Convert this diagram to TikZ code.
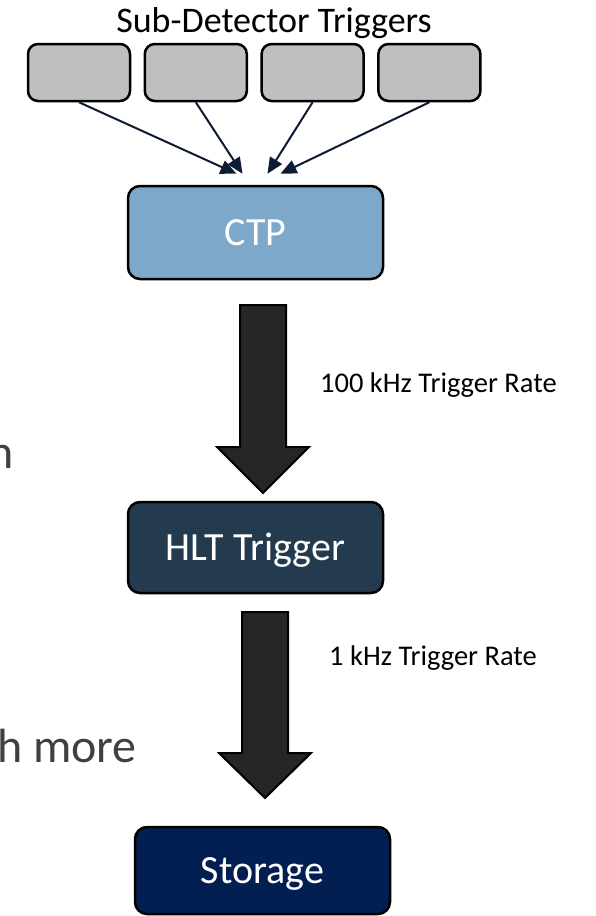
\documentclass[tikz,border=0pt]{standalone}
\usepackage{fontspec}
\setmainfont{Carlito}
\usepackage{xcolor}
\usetikzlibrary{arrows.meta}

\definecolor{subgray}{HTML}{BFBFBF}
\definecolor{ctpblue}{HTML}{7EA8C9}
\definecolor{hltblue}{HTML}{243A4F}
\definecolor{storeblue}{HTML}{031E50}
\definecolor{linknavy}{HTML}{0D1B33}
\definecolor{bigdark}{HTML}{262626}
\definecolor{sidegray}{HTML}{404040}

\tikzset{
  subbox/.style={draw=black, line width=2.5pt, fill=subgray, rounded corners=10pt,
    minimum width=102pt, minimum height=57pt, inner sep=0pt},
  stagebox/.style={draw=black, line width=2.5pt, rounded corners=12pt, text=white,
    minimum width=255pt, inner sep=0pt, text height=26pt, text depth=0pt,
    font=\fontsize{40}{48}\selectfont},
  feed/.style={draw=linknavy, line width=2pt, -{Triangle[length=16pt,width=14pt]}},
  bigarrow/.style={draw=black, line width=2pt, fill=bigdark, line join=miter},
  ratelabel/.style={anchor=base west, inner sep=0pt, font=\fontsize{28.5}{34}\selectfont},
  sidetext/.style={anchor=base east, inner sep=0pt, text=sidegray, font=\fontsize{48}{56}\selectfont}
}

\begin{document}
\begin{tikzpicture}[x=1pt, y=-1pt]
 \useasboundingbox (0,0) rectangle (595,916);
 \clip (0,0) rectangle (595,916);

  % sub-detector row
  \node[anchor=base, inner sep=0pt, font=\fontsize{36}{42}\selectfont] (title) at (274,32) {Sub-Detector Triggers};
  \foreach \i in {1,...,4}
   \node[subbox] (sd\i) at ({79+116.8*(\i-1)},72.5) {};

  % stages
  \node[stagebox, fill=ctpblue, minimum height=93pt] (ctp) at (255.5,232.5) {CTP};
  \node[stagebox, fill=hltblue, minimum height=91pt] (hlt) at (255.5,547.5) {HLT Trigger};
  \node[stagebox, fill=storeblue, minimum height=87pt] (store) at (262.5,870.5) {Storage};

  % feeds into the CTP
  \foreach \i/\dx in {1/-19, 2/-13, 3/12, 4/25} {
   \coordinate (in\i) at ([xshift=\dx pt, yshift=11pt]ctp.north);
   \draw[feed] (sd\i.south) -- (in\i);
  }

  % big block arrows between stages
  \foreach \cx/\ytop/\yneck/\ytip in {263/305/447/493, 265/612/753/798}
   \draw[bigarrow] (\cx-23,\ytop) -- (\cx+23,\ytop) -- (\cx+23,\yneck) -- (\cx+46,\yneck)
     -- (\cx,\ytip) -- (\cx-46,\yneck) -- (\cx-23,\yneck) -- cycle;

  \node[ratelabel] (rate1) at (320,392) {100 kHz Trigger Rate};
  \node[ratelabel] (rate2) at (329,665) {1 kHz Trigger Rate};

  % cut-off slide text on the left
  \node[sidetext] (side1) at (14,468) {n};
  \node[sidetext] (side2) at (137,762) {h more};
\end{tikzpicture}
\end{document}
